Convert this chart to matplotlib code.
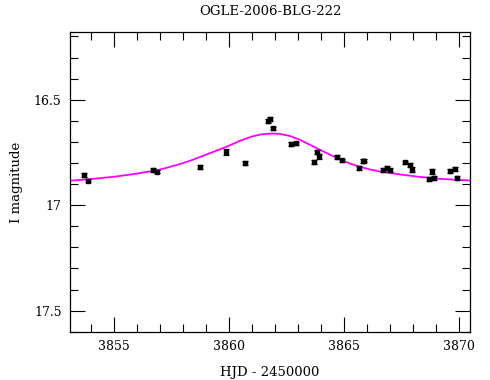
import matplotlib
matplotlib.use("Agg")
import matplotlib.pyplot as plt
from matplotlib.ticker import MultipleLocator

# Observations (HJD-2450000, I mag, error)
hjd = [3853.69, 3853.87, 3856.69, 3856.87, 3858.74, 3859.84, 3860.69,
       3861.69, 3861.78, 3861.88, 3862.68, 3862.88, 3863.69, 3863.82,
       3863.91, 3864.69, 3864.90, 3865.65, 3865.82, 3865.88, 3866.69,
       3866.87, 3866.97, 3867.66, 3867.84, 3867.93, 3868.69, 3868.81,
       3868.90, 3869.62, 3869.82, 3869.91]
mag = [16.858, 16.884, 16.833, 16.841, 16.820, 16.749, 16.801,
       16.601, 16.591, 16.636, 16.709, 16.707, 16.794, 16.748,
       16.767, 16.770, 16.787, 16.825, 16.792, 16.789, 16.835,
       16.822, 16.832, 16.797, 16.808, 16.832, 16.877, 16.839,
       16.871, 16.839, 16.830, 16.871]
err = [0.009, 0.008, 0.008, 0.008, 0.009, 0.014, 0.010,
       0.010, 0.009, 0.009, 0.008, 0.008, 0.010, 0.010,
       0.012, 0.009, 0.008, 0.009, 0.009, 0.008, 0.009,
       0.010, 0.009, 0.008, 0.010, 0.012, 0.010, 0.011,
       0.010, 0.009, 0.010, 0.008]

# Model curve
model_t = [3853.07, 3854.0, 3855.0, 3856.0, 3857.0, 3857.85, 3858.3, 3858.72,
           3859.29, 3859.9, 3860.46, 3861.0, 3861.4, 3861.85, 3862.2, 3862.64,
           3863.07, 3863.5, 3863.94, 3864.37, 3864.81, 3865.24, 3865.68,
           3866.1, 3866.55, 3867.42, 3868.29, 3869.16, 3870.03, 3870.47]
model_m = [16.884, 16.876, 16.865, 16.850, 16.831, 16.805, 16.789, 16.772,
           16.748, 16.722, 16.695, 16.674, 16.664, 16.660, 16.662, 16.672,
           16.690, 16.713, 16.737, 16.760, 16.783, 16.802, 16.818,
           16.830, 16.840, 16.854, 16.866, 16.875, 16.880, 16.883]

plt.rcParams['font.family'] = ['DejaVu Serif']
fig = plt.figure(figsize=(4.9, 3.8), dpi=100)
ax = fig.add_axes([70/490, 48/380, 400/490, 300/380])

ax.plot(model_t, model_m, color='#ff00ff', lw=1.3, zorder=2)
ax.errorbar(hjd, mag, yerr=err, fmt='s', color='black', ms=3.2,
            ecolor='black', elinewidth=0.9, capsize=2.2, capthick=0.9, zorder=3)

ax.set_xlim(3853.07, 3870.47)
ax.set_ylim(17.601, 16.179)
ax.xaxis.set_major_locator(MultipleLocator(5))
ax.xaxis.set_minor_locator(MultipleLocator(1))
ax.yaxis.set_major_locator(MultipleLocator(0.5))
ax.yaxis.set_minor_locator(MultipleLocator(0.1))
ax.set_yticks([16.5, 17.0, 17.5])
ax.set_yticklabels(['16.5', '17', '17.5'])
ax.tick_params(which='both', direction='in', top=True, right=True,
               width=0.8, labelsize=9, colors='black')
ax.tick_params(which='major', length=11, pad=6)
ax.tick_params(which='minor', length=5.8)
for s in ax.spines.values():
    s.set_linewidth(0.9)

ax.set_title('OGLE-2006-BLG-222', fontsize=9.5, pad=12)
ax.set_xlabel('HJD - 2450000', fontsize=9.5, labelpad=9)
ax.set_ylabel('I magnitude', fontsize=9.5, labelpad=8)

fig.savefig('out.png', dpi=100)
